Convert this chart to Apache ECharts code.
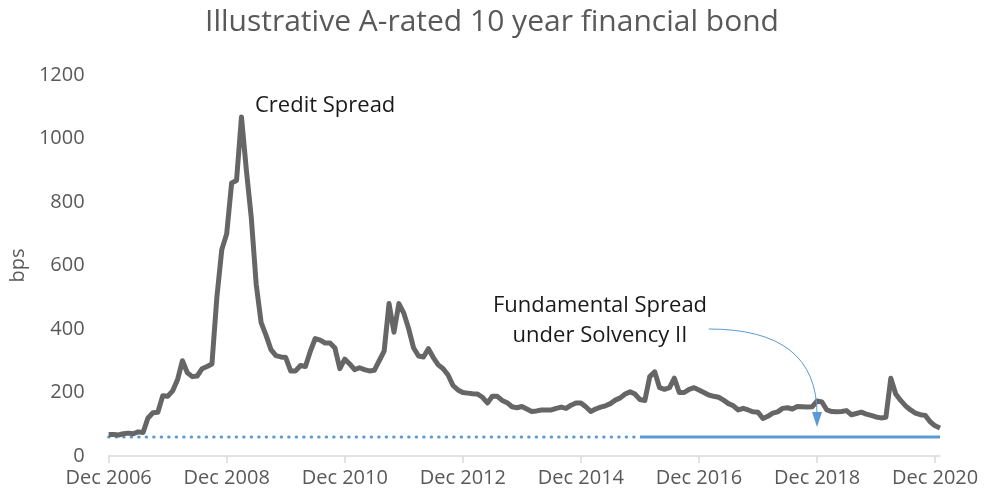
<!DOCTYPE html>
<html>
<head>
<meta charset="utf-8">
<script src="https://cdn.jsdelivr.net/npm/echarts@6/dist/echarts.min.js"></script>
<style>
html,body{margin:0;padding:0;background:#fff;}
#chart{width:984px;height:499px;}
</style>
</head>
<body>
<div id="chart"></div>
<script>
// ---- Data ----
const startYear = 2006, startMonth = 12, monthCount = 170; // Dec 2006 .. Jan 2021
const months = [];
for (let i = 0; i < monthCount; i++) {
  const t = (startMonth - 1) + i;
  const y = startYear + Math.floor(t / 12);
  const m = (t % 12) + 1;
  months.push(y + '-' + (m < 10 ? '0' + m : m));
}
const creditSpread = [
  68,68,66,70,72,70,76,74,120,136,
  138,190,188,205,240,300,262,250,252,275,
  282,290,500,650,700,860,868,1068,900,750,
  540,420,380,335,316,312,310,268,268,285,
  282,330,370,365,356,356,340,275,305,290,
  272,278,272,268,270,300,330,480,390,480,
  450,400,340,315,312,338,310,287,275,255,
  222,208,200,198,196,195,185,167,188,188,
  175,168,155,152,156,148,140,142,145,145,
  145,150,154,150,160,167,167,155,140,148,
  154,158,165,176,183,195,202,195,178,175,
  250,265,215,210,215,245,200,200,210,215,
  208,200,192,188,185,176,165,158,145,150,
  145,139,138,118,125,135,139,150,152,148,
  156,155,154,155,173,170,145,140,139,140,
  143,130,134,138,132,128,123,120,122,245,
  195,175,158,145,135,130,128,108,95,88
];
const fundamentalSpread = 60;
const solvencyStart = '2015-12';
const yTicks = [0, 200, 400, 600, 800, 1000, 1200];
const labelEvery = 24; // months between x labels
const arrowFrom = ['2017-02', 400];
const arrowTo = ['2018-12', 91];

const solvIdx = months.indexOf(solvencyStart);
const fsDotted = months.map((m, i) => i <= solvIdx ? fundamentalSpread : null);
const fsSolid = months.map((m, i) => i >= solvIdx ? fundamentalSpread : null);
const monNames = ['Jan','Feb','Mar','Apr','May','Jun','Jul','Aug','Sep','Oct','Nov','Dec'];

const FONT = '"Open Sans", "Noto Sans", sans-serif';
const BLUE = '#5B9BD5';
const chart = echarts.init(document.getElementById('chart'), null, {renderer: 'canvas'});
const baseOption = {
  animation: false,
  backgroundColor: '#ffffff',
  title: {
    text: 'Illustrative A-rated 10 year financial bond',
    left: 'center', top: 2,
    textStyle: {fontFamily: FONT, fontSize: 30, fontWeight: 'normal', color: '#595959'}
  },
  grid: {left: 108, right: 44, top: 75, bottom: 43, containLabel: false},
  xAxis: {
    type: 'category',
    data: months,
    boundaryGap: false,
    axisLine: {lineStyle: {color: '#d9d9d9', width: 1.5}},
    axisTick: {show: true, interval: (i) => i % labelEvery === 0, length: 7, lineStyle: {color: '#d9d9d9', width: 1.5}},
    axisLabel: {
      interval: (i) => i % labelEvery === 0, hideOverlap: false, margin: 12,
      fontFamily: FONT, fontSize: 20, color: '#595959',
      formatter: v => monNames[parseInt(v.slice(5), 10) - 1] + ' ' + v.slice(0, 4)
    },
    splitLine: {show: false}
  },
  yAxis: {
    type: 'value',
    min: yTicks[0], max: yTicks[yTicks.length - 1], interval: 200,
    name: 'bps', nameLocation: 'middle', nameGap: 80, nameRotate: 90,
    nameTextStyle: {fontFamily: FONT, fontSize: 20, color: '#595959'},
    axisLine: {show: false}, axisTick: {show: false},
    axisLabel: {fontFamily: FONT, fontSize: 20, color: '#595959', margin: 24, formatter: v => String(v)},
    splitLine: {show: false}
  },
  series: [
    {
      name: 'Fundamental Spread (pre)', type: 'line', data: fsDotted,
      symbol: 'none', connectNulls: false,
      lineStyle: {color: BLUE, width: 3, type: [0.5, 7], cap: 'round'}
    },
    {
      name: 'Fundamental Spread', type: 'line', data: fsSolid,
      symbol: 'none', connectNulls: false,
      lineStyle: {color: BLUE, width: 3}
    },
    {
      name: 'Credit Spread', type: 'line', data: creditSpread,
      symbol: 'none', z: 5,
      lineStyle: {color: '#666666', width: 5, join: 'round'}
    }
  ],
  graphic: [
    {type: 'text', left: 255, top: 95, style: {text: 'Credit Spread', font: '22px ' + FONT, fill: '#1a1a1a'}},
    {type: 'text', x: 600, y: 306, style: {text: 'Fundamental Spread', font: '22px ' + FONT, fill: '#1a1a1a', align: 'center', verticalAlign: 'middle'}},
    {type: 'text', x: 600, y: 336, style: {text: 'under Solvency II', font: '22px ' + FONT, fill: '#1a1a1a', align: 'center', verticalAlign: 'middle'}}
  ]
};
chart.setOption(baseOption);

// Curved annotation arrow, anchored in data coordinates
const p0 = chart.convertToPixel({gridIndex: 0}, [months.indexOf(arrowFrom[0]), arrowFrom[1]]);
const p1 = chart.convertToPixel({gridIndex: 0}, [months.indexOf(arrowTo[0]), arrowTo[1]]);
const cp = [p1[0], p0[1]];            // horizontal start tangent, vertical end tangent
const headLen = 15, headHalf = 5;
const tip = p1;
const base = [tip[0], tip[1] - headLen];
chart.setOption({
  graphic: [
    {type: 'text', left: 255, top: 95, style: {text: 'Credit Spread', font: '22px ' + FONT, fill: '#1a1a1a'}},
    {type: 'text', x: 600, y: 306, style: {text: 'Fundamental Spread', font: '22px ' + FONT, fill: '#1a1a1a', align: 'center', verticalAlign: 'middle'}},
    {type: 'text', x: 600, y: 336, style: {text: 'under Solvency II', font: '22px ' + FONT, fill: '#1a1a1a', align: 'center', verticalAlign: 'middle'}},
    {type: 'bezierCurve', z: 10, shape: {x1: p0[0], y1: p0[1], cpx1: cp[0], cpy1: cp[1], x2: base[0], y2: base[1] + 2},
      style: {stroke: BLUE, lineWidth: 1, fill: null}},
    {type: 'polygon', z: 10, shape: {points: [[tip[0], tip[1]], [base[0] - headHalf, base[1]], [base[0] + headHalf, base[1]]]},
      style: {fill: BLUE}}
  ]
}, {replaceMerge: ['graphic']});
</script>
</body>
</html>
